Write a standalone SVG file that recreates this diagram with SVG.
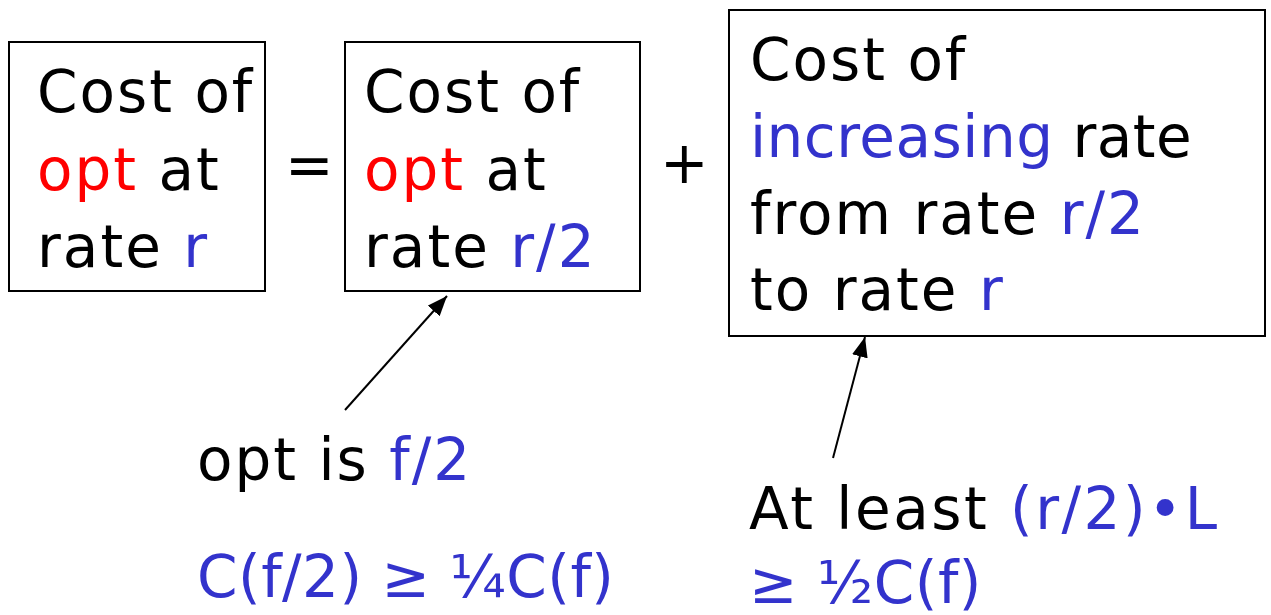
<svg xmlns="http://www.w3.org/2000/svg" width="1271" height="615" viewBox="0 0 1271 615">
<defs>
<style>
text{font-family:"DejaVu Sans","Liberation Sans",sans-serif;font-size:58px;fill:#000;letter-spacing:2px}
.r{fill:#FF0000}
.b{fill:#3333CC}
.t{letter-spacing:0.5px}
.box{fill:#fff;stroke:#000;stroke-width:2}
.conn{stroke:#000;stroke-width:2;fill:none}
</style>
<marker id="ah" viewBox="0 0 20 16" refX="20" refY="8" markerWidth="20" markerHeight="16" markerUnits="userSpaceOnUse" orient="auto">
<path d="M0,0 L20,8 L0,16 z" fill="#000"/>
</marker>
</defs>
<rect width="1271" height="615" fill="#fff"/>
<g id="box1">
<rect class="box" x="9" y="42" width="256" height="249"/>
<text x="37" y="112">Cost of</text>
<text x="37" y="190"><tspan class="r">opt</tspan> at</text>
<text x="37" y="267">rate <tspan class="b">r</tspan></text>
</g>
<g id="eq"><text x="285" y="185">=</text></g>
<g id="box2">
<rect class="box" x="345" y="42" width="295" height="249"/>
<text x="364" y="112">Cost of</text>
<text x="364" y="190"><tspan class="r">opt</tspan> at</text>
<text x="364" y="267">rate <tspan class="b">r/2</tspan></text>
</g>
<g id="plus"><text x="660" y="183">+</text></g>
<g id="box3">
<rect class="box" x="729" y="10" width="536" height="326"/>
<text x="750" y="80">Cost of</text>
<text x="750" y="157" class="t"><tspan class="b">increasing</tspan> rate</text>
<text x="750" y="234">from rate <tspan class="b">r/2</tspan></text>
<text x="750" y="310">to rate <tspan class="b">r</tspan></text>
</g>
<g id="note1">
<text x="197" y="480">opt is <tspan class="b">f/2</tspan></text>
<text x="197" y="597" class="b t">C(f/2) ≥ ¼C(f)</text>
</g>
<g id="note2">
<text x="749" y="529" style="letter-spacing:2.5px">At least <tspan class="b">(r/2)•L</tspan></text>
<text x="749" y="603" class="b t">≥ ½C(f)</text>
</g>
<g id="connectors">
<line class="conn" x1="345" y1="410" x2="447" y2="296" marker-end="url(#ah)"/>
<line class="conn" x1="833" y1="458" x2="865" y2="337" marker-end="url(#ah)"/>
</g>
</svg>
